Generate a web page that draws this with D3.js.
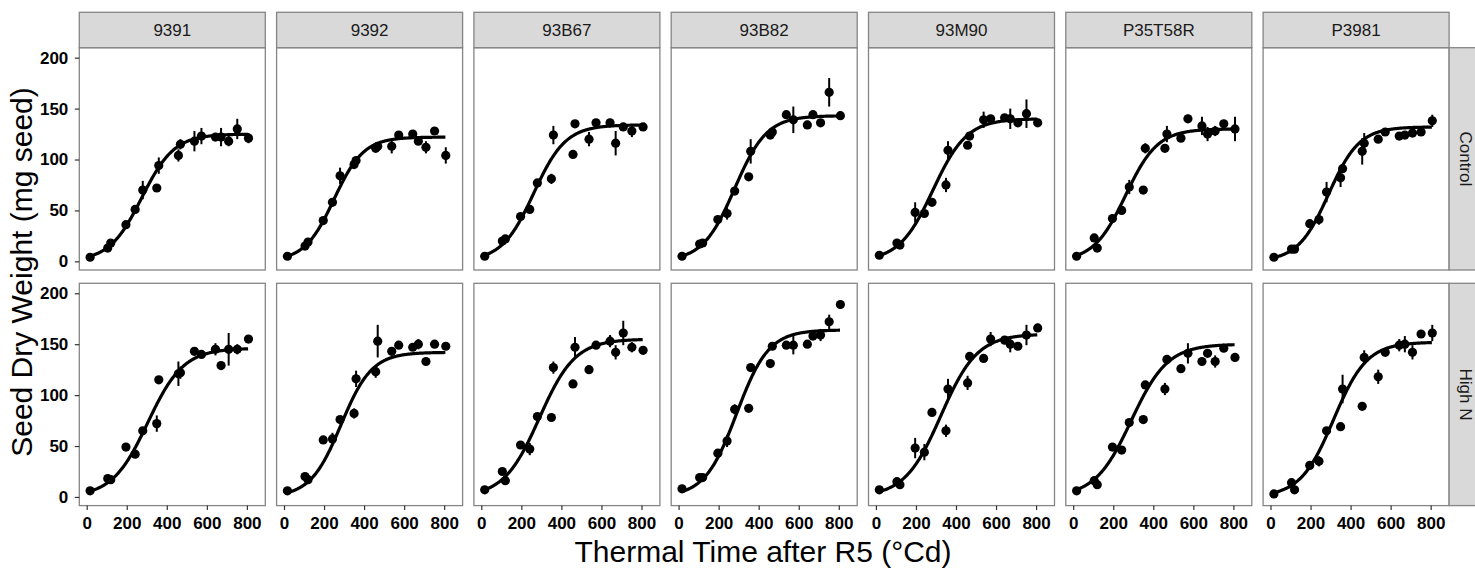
<!DOCTYPE html>
<html>
<head>
<meta charset="utf-8">
<script src="https://cdn.jsdelivr.net/npm/d3@7"></script>
<style>
  body { margin: 0; background: #fff; }
  svg { display: block; font-family: "Liberation Sans", Arial, sans-serif; }
</style>
</head>
<body>
<div id="chart"></div>
<script>
// facet columns (hybrids) and facet rows (N treatment)
const hybrids = ["9391", "9392", "93B67", "93B82", "93M90", "P35T58R", "P3981"];
const treatments = ["Control", "High N"];

// sampling times, thermal time after R5 (°Cd)
const thermalTime = [17, 105, 120, 196, 242, 280, 350, 360, 458, 468, 538, 573, 643, 671, 709, 752, 808];

// mean seed dry weight (mg seed), one row per hybrid
const weightControl = [
    [4, 13, 18, 36, 51, 70, 72, 94, 104, 115, 118, 123, 122, 122, 118, 130, 121],
    [5, 15, 19, 40, 58, 84, 95, 99, 111, 113, 113, 124, 125, 118, 112, 128, 104],
    [5, 20, 22, 44, 51, 77, 81, 124, 105, 135, 120, 136, 136, 116, 132, 128, 132],
    [5, 17, 18, 41, 47, 69, 83, 108, 124, 127, 144, 139, 134, 144, 136, 166, 143],
    [6, 18, 16, 48, 47, 58, 75, 109, 114, 123, 139, 140, 141, 140, 136, 145, 136],
    [5, 23, 13, 42, 50, 73, 70, 111, 111, 125, 121, 140, 133, 125, 128, 135, 130],
    [4, 12, 12, 37, 41, 68, 82, 91, 108, 116, 120, 127, 123, 124, 126, 127, 138]
];
const weightHighN = [
    [6, 18, 17, 49, 42, 65, 72, 115, 121, 122, 143, 140, 145, 129, 145, 145, 155],
    [6, 20, 17, 56, 57, 76, 82, 116, 123, 153, 143, 149, 147, 150, 133, 150, 148],
    [7, 25, 16, 51, 47, 79, 78, 127, 111, 147, 125, 149, 153, 142, 161, 147, 144],
    [8, 19, 19, 43, 55, 86, 87, 127, 131, 148, 149, 149, 150, 158, 159, 172, 189],
    [7, 15, 12, 48, 44, 83, 65, 106, 112, 138, 136, 155, 154, 150, 148, 159, 166],
    [6, 16, 12, 49, 46, 73, 76, 110, 106, 135, 126, 141, 133, 141, 133, 146, 137],
    [3, 14, 7, 31, 35, 65, 69, 106, 89, 137, 118, 142, 149, 150, 142, 160, 161]
];

// standard errors for the vertical bars
const seControl = [
    [2, 2, 2, 2, 3, 9, 3, 8, 6, 5, 10, 8, 3, 9, 5, 10, 5],
    [2, 2, 2, 2, 3, 8, 3, 4, 3, 3, 7, 3, 3, 3, 6, 3, 8],
    [2, 2, 2, 2, 3, 3, 5, 9, 3, 3, 7, 3, 3, 12, 3, 6, 3],
    [2, 2, 2, 3, 6, 3, 3, 12, 3, 5, 3, 13, 4, 3, 3, 14, 4],
    [2, 2, 2, 10, 3, 3, 7, 9, 3, 3, 8, 3, 3, 10, 3, 14, 4],
    [2, 2, 2, 3, 3, 7, 3, 5, 3, 8, 3, 4, 9, 7, 5, 3, 12],
    [3, 2, 2, 3, 5, 10, 9, 3, 13, 10, 3, 3, 3, 3, 3, 3, 6]
];
const seHighN = [
    [2, 2, 2, 3, 3, 3, 8, 3, 12, 6, 4, 3, 6, 3, 16, 5, 3],
    [2, 2, 2, 3, 6, 3, 5, 8, 6, 16, 3, 3, 3, 5, 3, 3, 3],
    [2, 2, 2, 3, 6, 3, 3, 6, 3, 10, 3, 3, 6, 7, 12, 5, 3],
    [2, 2, 2, 3, 6, 5, 3, 3, 3, 3, 3, 9, 3, 3, 6, 7, 4],
    [2, 2, 2, 10, 8, 3, 6, 10, 7, 3, 3, 7, 3, 8, 3, 10, 4],
    [2, 2, 2, 3, 3, 3, 3, 3, 6, 3, 3, 10, 3, 3, 6, 3, 3],
    [2, 2, 2, 3, 5, 3, 3, 14, 3, 7, 7, 3, 6, 8, 7, 3, 8]
];

// logistic fit per hybrid: asymptote (mg), midpoint (°Cd), rate (1/°Cd)
const fitAsymControl = [125, 122, 134, 143, 140, 130, 132];
const fitMidControl = [275, 250, 262, 280, 285, 262, 290];
const fitRateControl = [0.0123, 0.0135, 0.0125, 0.0125, 0.0118, 0.0125, 0.013];
const fitAsymHighN = [146, 142, 155, 164, 160, 150, 152];
const fitMidHighN = [305, 285, 290, 290, 325, 290, 315];
const fitRateHighN = [0.0112, 0.013, 0.0112, 0.0125, 0.011, 0.011, 0.012];

const xTicks = [0, 200, 400, 600, 800];
const yTicks = [0, 50, 100, 150, 200];

// group per row so the drawing loop can pick them up
const rows = [
    { weight: weightControl, se: seControl, asym: fitAsymControl, mid: fitMidControl, rate: fitRateControl },
    { weight: weightHighN, se: seHighN, asym: fitAsymHighN, mid: fitMidHighN, rate: fitRateHighN }
];

// layout
const width = 1475;
const height = 570;
const panelLeft = 79.3;
const panelStep = 197.3;
const panelWidth = 186;
const panelHeight = 222.3;
const rowTop = [47.7, 283.3];
const stripSize = 35.4;
const grey = "#858585";

const x = d3.scaleLinear().domain([-37, 892]).range([0, panelWidth]);
const y = d3.scaleLinear().domain([-8.5, 209.8]).range([panelHeight, 0]);

const svg = d3.create("svg")
    .attr("width", width)
    .attr("height", height)
    .attr("viewBox", [0, 0, width, height]);

svg.append("rect").attr("width", width).attr("height", height).attr("fill", "#fff");

const line = d3.line()
    .x(d => x(d[0]))
    .y(d => y(d[1]));

rows.forEach((row, r) => {
    hybrids.forEach((hybrid, c) => {
        const g = svg.append("g")
            .attr("transform", `translate(${panelLeft + c * panelStep},${rowTop[r]})`);

        const pts = thermalTime.map((t, i) => ({ t, w: row.weight[c][i], se: row.se[c][i] }));

        // fitted curve, evaluated over the sampled range
        const A = row.asym[c], m = row.mid[c], k = row.rate[c];
        const curve = d3.range(thermalTime[0], thermalTime[thermalTime.length - 1] + 1, 3)
            .map(t => [t, A / (1 + Math.exp(-k * (t - m)))]);

        g.append("path")
            .datum(curve)
            .attr("fill", "none")
            .attr("stroke", "#000")
            .attr("stroke-width", 3.2)
            .attr("stroke-linejoin", "round")
            .attr("d", line);

        // error bars
        g.append("g")
            .attr("stroke", "#000")
            .attr("stroke-width", 2)
            .selectAll("line")
            .data(pts)
            .join("line")
            .attr("x1", d => x(d.t))
            .attr("x2", d => x(d.t))
            .attr("y1", d => y(d.w - d.se))
            .attr("y2", d => y(d.w + d.se));

        g.append("g")
            .selectAll("circle")
            .data(pts)
            .join("circle")
            .attr("cx", d => x(d.t))
            .attr("cy", d => y(d.w))
            .attr("r", 4.6)
            .attr("fill", "#000");

        // panel border
        g.append("rect")
            .attr("width", panelWidth)
            .attr("height", panelHeight)
            .attr("fill", "none")
            .attr("stroke", grey)
            .attr("stroke-width", 1.3);

        // y axis on the first column
        if (c === 0) {
            g.append("g")
                .call(d3.axisLeft(y).tickValues(yTicks).tickSize(4.5).tickPadding(6.5))
                .call(a => a.select(".domain").remove())
                .call(a => a.selectAll("line").attr("stroke", "#333").attr("stroke-width", 1.2))
                .call(a => a.selectAll("text")
                    .attr("fill", "#000")
                    .attr("font-size", 17)
                    .attr("font-weight", "bold")
                    .attr("font-family", "Liberation Sans, Arial, sans-serif"));
        }

        // x axis on the bottom row
        if (r === rows.length - 1) {
            g.append("g")
                .attr("transform", `translate(0,${panelHeight})`)
                .call(d3.axisBottom(x).tickValues(xTicks).tickSize(4.5).tickPadding(6.5))
                .call(a => a.select(".domain").remove())
                .call(a => a.selectAll("line").attr("stroke", "#333").attr("stroke-width", 1.2))
                .call(a => a.selectAll("text")
                    .attr("fill", "#000")
                    .attr("font-size", 17)
                    .attr("font-weight", "bold")
                    .attr("font-family", "Liberation Sans, Arial, sans-serif"));
        }
    });
});

// column strips
hybrids.forEach((hybrid, c) => {
    const x0 = panelLeft + c * panelStep;
    svg.append("rect")
        .attr("x", x0)
        .attr("y", rowTop[0] - stripSize)
        .attr("width", panelWidth)
        .attr("height", stripSize)
        .attr("fill", "#d9d9d9")
        .attr("stroke", grey)
        .attr("stroke-width", 1.3);
    svg.append("text")
        .attr("x", x0 + panelWidth / 2)
        .attr("y", rowTop[0] - stripSize / 2)
        .attr("dy", "0.36em")
        .attr("text-anchor", "middle")
        .attr("font-size", 17)
        .attr("fill", "#1a1a1a")
        .text(hybrid);
});

// row strips on the right
const stripX = panelLeft + (hybrids.length - 1) * panelStep + panelWidth;
treatments.forEach((treatment, r) => {
    svg.append("rect")
        .attr("x", stripX)
        .attr("y", rowTop[r])
        .attr("width", stripSize)
        .attr("height", panelHeight)
        .attr("fill", "#d9d9d9")
        .attr("stroke", grey)
        .attr("stroke-width", 1.3);
    svg.append("text")
        .attr("transform", `translate(${stripX + 17},${rowTop[r] + panelHeight / 2}) rotate(90)`)
        .attr("dy", "0.36em")
        .attr("text-anchor", "middle")
        .attr("font-size", 17)
        .attr("fill", "#1a1a1a")
        .text(treatment);
});

// axis titles
svg.append("text")
    .attr("transform", "translate(32,272) rotate(-90)")
    .attr("text-anchor", "middle")
    .attr("font-size", 30)
    .attr("fill", "#000")
    .text("Seed Dry Weight (mg seed)");

svg.append("text")
    .attr("x", 763)
    .attr("y", 562)
    .attr("text-anchor", "middle")
    .attr("font-size", 30)
    .attr("fill", "#000")
    .text("Thermal Time after R5 (°Cd)");

document.getElementById("chart").appendChild(svg.node());
</script>
</body>
</html>
